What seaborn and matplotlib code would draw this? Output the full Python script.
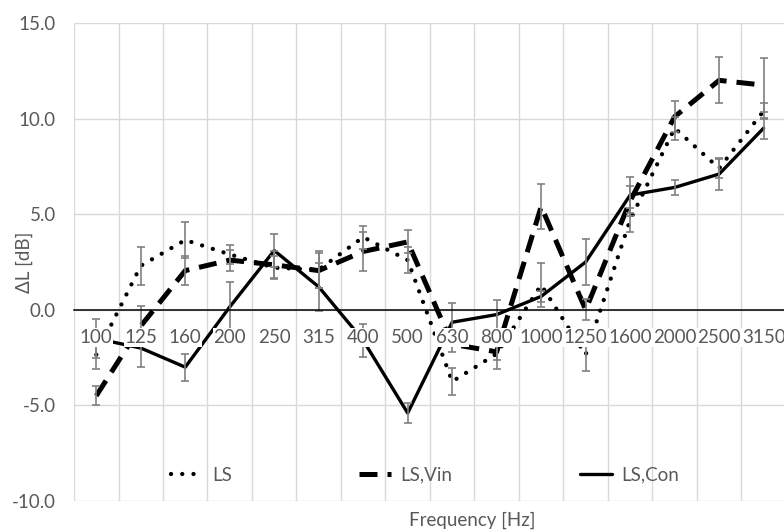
import numpy as np
import pandas as pd
import matplotlib
matplotlib.use("Agg")
import matplotlib.pyplot as plt
import seaborn as sns

# Frequency bands (Hz) and level differences (dB)
freqs = ['100', '125', '160', '200', '250', '315', '400', '500',
         '630', '800', '1000', '1250', '1600', '2000', '2500', '3150']

ls = [-2.35, 2.3, 3.65, 2.9, 2.2, 2.1, 3.8, 2.6,
      -3.75, -2.3, 1.3, -2.35, 4.7, 9.5, 7.4, 10.4]
ls_err = [0.75, 1.0, 0.95, 0.5, 0.6, 0.95, 0.6, 0.7,
          0.7, 0.8, 1.15, 0.85, 0.65, 0.6, 0.5, 0.4]

ls_vin = [-4.5, -0.85, 2.05, 2.6, 2.35, 2.05, 3.05, 3.55,
          -1.8, -2.2, 5.4, 0.0, 5.7, 10.1, 12.0, 11.75]
ls_vin_err = [0.5, 1.05, 0.75, 0.55, 0.7, 0.9, 1.0, 0.6,
              0.4, 0.4, 1.2, 0.55, 0.8, 0.8, 1.2, 1.4]

ls_con = [-1.5, -2.0, -3.0, 0.15, 3.1, 1.2, -1.6, -5.4,
          -0.65, -0.25, 0.7, 2.5, 6.0, 6.4, 7.1, 9.5]
ls_con_err = [1.0, 1.0, 0.7, 1.3, 0.85, 1.25, 0.85, 0.5,
              1.0, 0.75, 0.3, 1.2, 0.95, 0.4, 0.85, 0.55]

y_ticks = [-10, -5, 0, 5, 10, 15]

sns.set_theme(style="white")
plt.rcParams['font.family'] = ['Lato', 'DejaVu Sans']
text_grey = '#595959'
fs = 13.5

fig = plt.figure(figsize=(7.84, 5.31), dpi=100)
ax = fig.add_axes([0.0944, 0.0565, 0.908, 0.9002])

pos = np.arange(len(freqs))
df = pd.DataFrame({'pos': pos, 'LS': ls, 'LS,Vin': ls_vin, 'LS,Con': ls_con})

# category boundary grid
ax.vlines(np.arange(len(freqs) + 1) - 0.5, y_ticks[0], y_ticks[-1],
          color='#d9d9d9', lw=1, zorder=0)

series = [
    ('LS', ls_err, dict(lw=3.1, dashes=(0.01, 2.6), dash_capstyle='round')),
    ('LS,Vin', ls_vin_err, dict(lw=3.6, dashes=(3.6, 2.0), dash_capstyle='butt')),
    ('LS,Con', ls_con_err, dict(lw=2.4, linestyle='-')),
]
for name, err, style in series:
    sns.lineplot(data=df, x='pos', y=name, ax=ax, color='black', label=name,
                 lw=style['lw'], zorder=2)
    line = ax.lines[-1]
    if 'dashes' in style:
        line.set_dashes(style['dashes'])
        line.set_dash_capstyle(style['dash_capstyle'])
    ax.errorbar(pos, df[name], yerr=err, fmt='none', ecolor='#808080',
                elinewidth=1.2, capsize=3, capthick=1.2, zorder=2.2)

ax.set_xlim(-0.5, len(freqs) - 0.5)
ax.set_ylim(y_ticks[0], y_ticks[-1])
ax.set_yticks(y_ticks)
ax.set_yticklabels([f'{v:.1f}' for v in y_ticks])
ax.yaxis.grid(True, color='#d9d9d9', lw=1)
ax.xaxis.grid(False)

ax.set_xticks(pos)
ax.set_xticklabels(freqs)
ax.spines['bottom'].set_position(('data', 0))
ax.spines['bottom'].set_color('black')
ax.spines['bottom'].set_linewidth(1.1)
ax.spines['bottom'].set_zorder(2.6)
for s in ['top', 'right', 'left']:
    ax.spines[s].set_visible(False)
ax.xaxis.set_zorder(5)

ax.tick_params(axis='x', length=0, pad=14, labelsize=fs, labelcolor=text_grey)
ax.tick_params(axis='y', length=0, pad=13, labelsize=fs, labelcolor=text_grey)
for t in ax.get_xticklabels():
    t.set_bbox(dict(facecolor='white', edgecolor='none', pad=0.5))

ax.set_ylabel('ΔL [dB]', fontsize=fs, color=text_grey)
ax.yaxis.set_label_coords(-0.058, 0.5)
ax.set_xlabel('Frequency [Hz]', fontsize=fs, color=text_grey)
ax.xaxis.set_label_coords(0.559, -0.022)

leg = ax.legend(loc='center', bbox_to_anchor=(0.493, 0.054), ncol=3, frameon=False,
                fontsize=fs, handlelength=1.7, handletextpad=0.5, columnspacing=6.8)
for t in leg.get_texts():
    t.set_color(text_grey)

fig.savefig('out.png', dpi=100)
